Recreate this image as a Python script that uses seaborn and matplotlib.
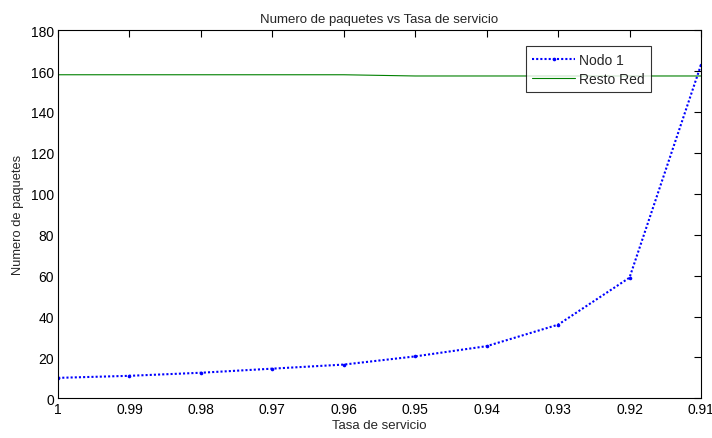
import matplotlib
matplotlib.use("Agg")
import matplotlib.pyplot as plt
import seaborn as sns
import pandas as pd

tasa = [1.00, 0.99, 0.98, 0.97, 0.96, 0.95, 0.94, 0.93, 0.92, 0.91]
nodo1 = [10.0, 11.0, 12.5, 14.5, 16.5, 20.5, 25.5, 36.0, 59.0, 163.0]
resto_red = [158.2, 158.2, 158.2, 158.2, 158.2, 157.6, 157.6, 157.6, 157.6, 157.6]
x_ticks = [1.00, 0.99, 0.98, 0.97, 0.96, 0.95, 0.94, 0.93, 0.92, 0.91]
x_ticklabels = ["1", "0.99", "0.98", "0.97", "0.96", "0.95", "0.94", "0.93", "0.92", "0.91"]
y_ticks = [0, 20, 40, 60, 80, 100, 120, 140, 160, 180]

sns.set_style("white")
plt.rcParams["font.family"] = ["Liberation Sans", "DejaVu Sans"]

df = pd.DataFrame({"tasa": tasa, "nodo1": nodo1, "resto": resto_red})

fig = plt.figure(figsize=(7.12, 4.39), dpi=100)
ax = fig.add_axes([0.0815, 0.0904, 0.903, 0.8386])

sns.lineplot(data=df, x="tasa", y="nodo1", ax=ax, color="#0000ff",
             linestyle=(0, (1, 1)), linewidth=1.5, marker="o", markersize=2.6,
             markeredgewidth=0, label="Nodo 1")
sns.lineplot(data=df, x="tasa", y="resto", ax=ax, color="#008000", linestyle="-",
             linewidth=0.8, label="Resto Red")

ax.set_xlim(1.0, 0.91)
ax.set_ylim(0, 180)
ax.set_xticks(x_ticks)
ax.set_xticklabels(x_ticklabels)
ax.set_yticks(y_ticks)
ax.tick_params(direction="in", length=5, width=0.8, top=True, right=True,
               labelsize=10, colors="black", pad=3)
ax.tick_params(axis="x", labeltop=False)
ax.tick_params(axis="y", labelright=False)
for s in ax.spines.values():
    s.set_visible(True)
    s.set_color("black")
    s.set_linewidth(0.8)

ax.set_title("Numero de paquetes vs Tasa de servicio", fontsize=9.5, pad=6)
ax.set_xlabel("Tasa de servicio", fontsize=9.5, labelpad=2)
ax.set_ylabel("Numero de paquetes", fontsize=9.3, labelpad=5)

leg = ax.legend(loc="upper left", bbox_to_anchor=(0.728, 0.956), fontsize=10,
                frameon=True, fancybox=False, edgecolor="black",
                handlelength=3.1, borderpad=0.45, labelspacing=0.4,
                handletextpad=0.25, borderaxespad=0)
leg.get_frame().set_linewidth(0.8)

fig.savefig("out.png", dpi=100)
